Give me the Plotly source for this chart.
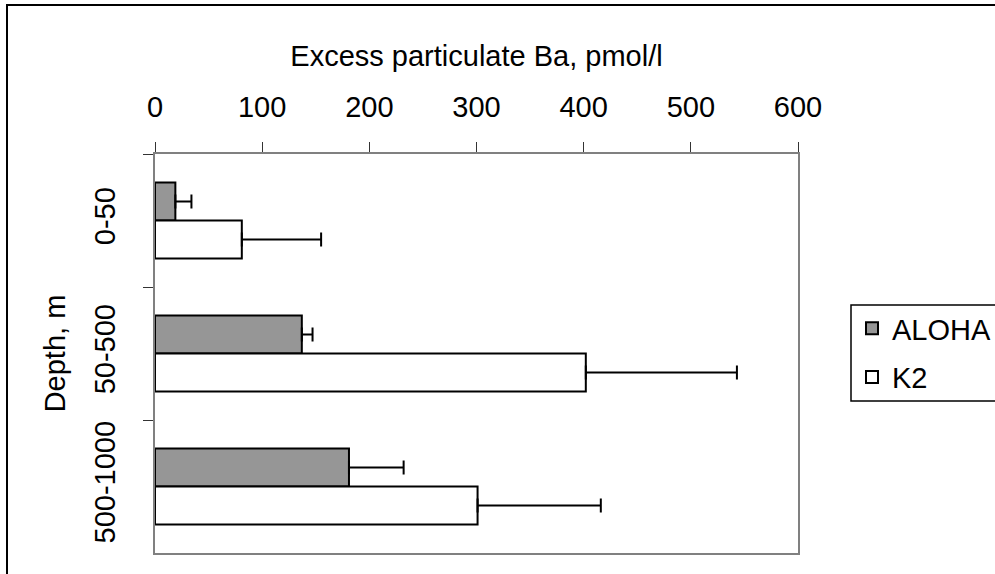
import plotly.graph_objects as go

depths = ["0-50", "50-500", "500-1000"]
aloha = [19, 137, 181]
aloha_err = [15, 10, 51]
k2 = [81, 402, 301]
k2_err = [74, 141, 115]
x_ticks = [0, 100, 200, 300, 400, 500, 600]

FONT = "Liberation Sans, Arial, sans-serif"
FS = 29
L, R, T, B = 155, 197, 154, 21
W, H = 995, 574
pw, ph = W - L - R, H - T - B

def px(xp):
    return (xp - L) / pw

def py(yp):
    return (H - B - yp) / ph

fig = go.Figure()
fig.add_trace(go.Bar(
    y=depths, x=aloha, orientation="h", name="ALOHA",
    legendgroup="a",
    marker=dict(color="#969696", line=dict(color="black", width=2)),
    error_x=dict(type="data", array=aloha_err, arrayminus=[0] * len(aloha),
                 symmetric=False, color="black", thickness=2, width=7),
))
fig.add_trace(go.Bar(
    y=depths, x=k2, orientation="h", name="K2",
    legendgroup="b",
    marker=dict(color="white", line=dict(color="black", width=2)),
    error_x=dict(type="data", array=k2_err, arrayminus=[0] * len(k2),
                 symmetric=False, color="black", thickness=2, width=7),
))

fig.update_layout(
    width=W, height=H,
    margin=dict(l=L, r=R, t=T, b=B, pad=0, autoexpand=False),
    paper_bgcolor="white", plot_bgcolor="white",
    font=dict(family=FONT, size=FS, color="black"),
    barmode="group", bargap=0.43, bargroupgap=0,
    showlegend=True,
    legend=dict(x=px(852), y=py(303), xanchor="left", yanchor="top",
                traceorder="grouped", tracegroupgap=8,
                bgcolor="rgba(0,0,0,0)", borderwidth=0,
                font=dict(family=FONT, size=FS, color="black")),
    xaxis=dict(side="top", range=[0, 600], tickvals=x_ticks,
               ticks="outside", ticklen=10, tickcolor="#333", tickwidth=1,
               ticklabelstandoff=13,
               showline=True, linecolor="#808080", linewidth=2, mirror=True,
               showgrid=False, zeroline=False,
               title=dict(text="Excess particulate Ba, pmol/l", standoff=16,
                          font=dict(family=FONT, size=FS)),
               tickfont=dict(family=FONT, size=FS)),
    yaxis=dict(categoryorder="array", categoryarray=depths, autorange="reversed",
               ticks="outside", ticklen=10, tickcolor="#333", tickwidth=1,
               tickson="boundaries", tickangle=-90, ticklabelstandoff=26,
               showline=True, linecolor="#808080", linewidth=2, mirror=True,
               showgrid=False, zeroline=False,
               title=dict(text="Depth, m", standoff=15,
                          font=dict(family=FONT, size=FS)),
               tickfont=dict(family=FONT, size=FS)),
    shapes=[
        dict(type="rect", xref="paper", yref="paper",
             x0=px(7), x1=px(1010), y0=py(590), y1=py(5),
             line=dict(color="black", width=2), fillcolor="rgba(0,0,0,0)"),
        dict(type="rect", xref="paper", yref="paper",
             x0=px(851), x1=px(1010), y0=py(401), y1=py(305),
             line=dict(color="black", width=1.5), fillcolor="rgba(0,0,0,0)"),
    ],
)

fig.write_html("out.html")
